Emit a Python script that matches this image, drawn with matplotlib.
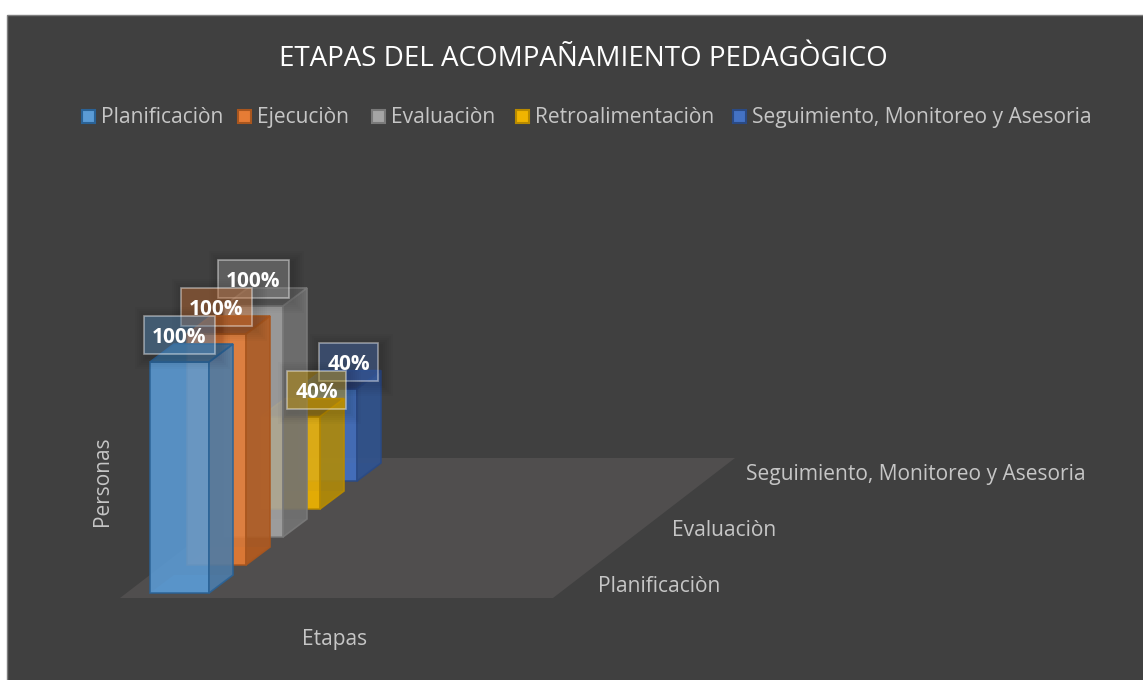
import matplotlib
matplotlib.use("Agg")
import matplotlib.pyplot as plt
from matplotlib.patches import Polygon, Rectangle

# Data
series = ["Planificaciòn", "Ejecuciòn", "Evaluaciòn", "Retroalimentaciòn",
          "Seguimiento, Monitoreo y Asesoria"]
values = [100, 100, 100, 40, 40]
depth_labels = ["Planificaciòn", "Evaluaciòn", "Seguimiento, Monitoreo y Asesoria"]
depth_label_pos = [0, 2, 4]

title = "ETAPAS DEL ACOMPAÑAMIENTO PEDAGÒGICO"
colors = ["#5b9bd5", "#e67c35", "#a5a5a5", "#f0b400", "#4472c4"]
edges = ["#2a6296", "#a9561e", "#7a7a7a", "#b88a00", "#2a4a85"]
sides = ["#4d7ba6", "#b05a20", "#727272", "#b08a08", "#30538f"]
tops = ["#3a6a96", "#9c5020", "#5e5e5e", "#96740c", "#2b4a80"]

plt.rcParams["font.family"] = ["Open Sans", "DejaVu Sans"]
bg = "#404040"
txt = "#c6c6c6"

fig = plt.figure(figsize=(11.43, 6.8), dpi=100, facecolor="white")
ax = fig.add_axes([0, 0, 1, 1])
ax.set_xlim(0, 1143)
ax.set_ylim(680, 0)
ax.axis("off")

ax.add_patch(Rectangle((6.5, 14.5), 1140, 670, fc=bg, ec="#7f7f7f", lw=1))


# oblique projection: series index s, position u across the bar, height value v, depth d
def proj(s, u, v, d=0.0):
    px_per_val = 231 / 100
    x = 150 + 37 * s + 59 * u + 24 * d
    y = 593 - 28 * s - px_per_val * v - 18 * d
    return x, y


# floor
ax.add_patch(Polygon([(120, 598), (553, 598), (735, 458), (302, 458)], fc="#504e4e", ec="none"))

# bars back to front so the transparency stacks the right way
for i in range(len(series) - 1, -1, -1):
    v = values[i]
    # floor of the bar, seen through it
    ax.add_patch(Polygon([proj(i, 0, 0), proj(i, 1, 0), proj(i, 1, 0, 1), proj(i, 0, 0, 1)],
                         fc=sides[i], ec="none", alpha=0.5))
    ax.add_patch(Polygon([proj(i, 0, 0), proj(i, 1, 0), proj(i, 1, v), proj(i, 0, v)],
                         fc=colors[i], ec=edges[i], lw=1.2, alpha=0.88))
    ax.add_patch(Polygon([proj(i, 1, 0), proj(i, 1, 0, 1), proj(i, 1, v, 1), proj(i, 1, v)],
                         fc=sides[i], ec=edges[i], lw=1.2, alpha=0.9))
    ax.add_patch(Polygon([proj(i, 0, v), proj(i, 1, v), proj(i, 1, v, 1), proj(i, 0, v, 1)],
                         fc=tops[i], ec=edges[i], lw=1.2, alpha=0.9))

# data labels, back to front, each with a soft dark shadow
label_dx = [0, 0, 0, 26, 21]
label_w = [71, 71, 71, 59, 59]
for i in range(len(series) - 1, -1, -1):
    v = values[i]
    x, y = proj(i, 0.5, v)
    cx, cy = x + label_dx[i], y - 27
    w = label_w[i]
    for grow in range(12, 0, -2):
        ax.add_patch(Rectangle((cx - w / 2 - grow + 3, cy - 19 - grow + 3), w + 2 * grow, 38 + 2 * grow,
                               fc=(0, 0, 0, 0.018), ec="none"))
    ax.add_patch(Rectangle((cx - w / 2, cy - 19), w, 38, fc=colors[i], ec="none", alpha=0.38))
    ax.add_patch(Rectangle((cx - w / 2, cy - 19), w, 38, fc="none", ec=(1, 1, 1, 0.45), lw=1.2))
    ax.text(cx, cy + 8, f"{v}%", color="white", fontsize=15, fontweight="bold",
            ha="center", va="baseline")

# title, legend
ax.text(583, 66, title, color="white", fontsize=19.95, ha="center", va="baseline")
swatch_x = [82, 238, 372, 516, 733]
for i, name in enumerate(series):
    ax.add_patch(Rectangle((swatch_x[i], 110), 13, 13, fc=colors[i], ec=edges[i], lw=1.5))
    ax.text(swatch_x[i] + 19, 123, name, color=txt, fontsize=15.15, ha="left", va="baseline")

# axis labels
ax.text(103, 481, "Personas", color=txt, fontsize=15, rotation=90, ha="center", va="center")
ax.text(335, 645, "Etapas", color=txt, fontsize=15, ha="center", va="baseline")
for name, s in zip(depth_labels, depth_label_pos):
    x = 598 + 37 * s
    y = 592 - 28 * s
    ax.text(x, y, name, color=txt, fontsize=15.15, ha="left", va="baseline")

fig.savefig("out.png", dpi=100, facecolor="white")
